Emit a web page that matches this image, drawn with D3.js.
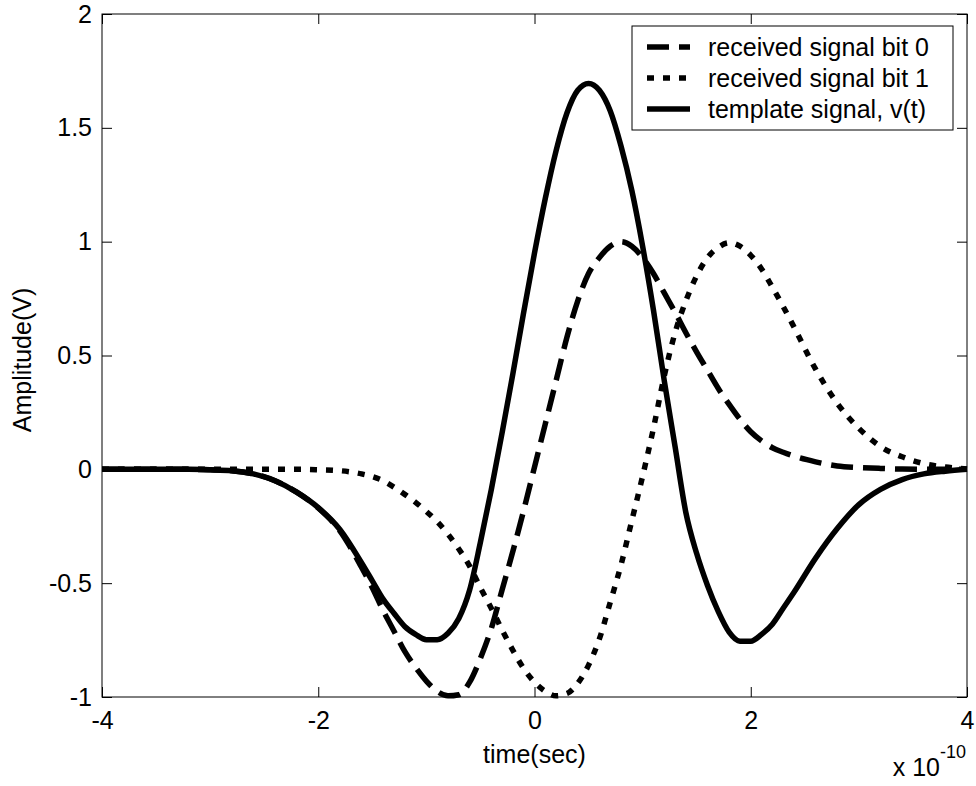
<!DOCTYPE html>
<html>
<head>
<meta charset="utf-8">
<script src="https://cdn.jsdelivr.net/npm/d3@7"></script>
<style>
  body { margin: 0; background: #fff; }
  text { font-family: Arial, "Liberation Sans", sans-serif; fill: #000; }
</style>
</head>
<body>
<script>
// time axis in units of 1e-10 s
var time = [-4.0, -3.6, -3.2, -3.0, -2.8, -2.6, -2.4, -2.2, -2.0, -1.8,
  -1.6, -1.5, -1.4, -1.3, -1.2, -1.1, -1.0, -0.9, -0.8, -0.7, -0.6, -0.5, -0.4, -0.3, -0.2, -0.1,
  0.0, 0.1, 0.2, 0.3, 0.4, 0.5, 0.6, 0.7, 0.8, 0.9, 1.0, 1.1, 1.2, 1.3, 1.4, 1.5, 1.6, 1.7, 1.8, 1.9,
  2.0, 2.1, 2.2, 2.3, 2.4, 2.6, 2.8, 3.0, 3.2, 3.4, 3.6, 3.8, 4.0];

var bit0 = [0, 0, 0, -0.002, -0.006, -0.02, -0.05, -0.10, -0.17, -0.27,
  -0.43, -0.52, -0.62, -0.71, -0.80, -0.87, -0.93, -0.975, -0.995, -0.99, -0.935, -0.83, -0.70, -0.53, -0.36, -0.18,
  0.01, 0.20, 0.39, 0.58, 0.74, 0.86, 0.93, 0.98, 1.0, 0.98, 0.93, 0.86, 0.775, 0.69, 0.60, 0.515, 0.435, 0.355, 0.285, 0.22,
  0.165, 0.125, 0.095, 0.075, 0.058, 0.033, 0.015, 0.008, 0.004, 0.001, 0, 0, 0];

var bit1 = [0, 0, 0, 0, 0, 0, 0, 0, -0.002, -0.006,
  -0.02, -0.032, -0.05, -0.078, -0.11, -0.145, -0.185, -0.23, -0.285, -0.35, -0.425, -0.52, -0.61, -0.705, -0.795, -0.875,
  -0.935, -0.975, -0.995, -0.985, -0.94, -0.86, -0.745, -0.585, -0.42, -0.225, -0.03, 0.18, 0.41, 0.60, 0.74, 0.85, 0.93, 0.975, 0.995, 0.98,
  0.94, 0.88, 0.80, 0.715, 0.625, 0.44, 0.29, 0.18, 0.10, 0.055, 0.025, 0.01, 0.002];

var template = [0, 0, 0, -0.002, -0.006, -0.02, -0.05, -0.10, -0.168, -0.264,
  -0.41, -0.49, -0.57, -0.632, -0.69, -0.725, -0.748, -0.748, -0.72, -0.655, -0.53, -0.32, -0.09, 0.16, 0.42, 0.69,
  0.95, 1.19, 1.40, 1.565, 1.665, 1.695, 1.665, 1.575, 1.42, 1.225, 0.98, 0.70, 0.39, 0.10, -0.19, -0.37, -0.51, -0.625, -0.715, -0.755,
  -0.755, -0.725, -0.68, -0.61, -0.54, -0.39, -0.26, -0.155, -0.088, -0.045, -0.02, -0.008, 0];

var seriesNames = ["received signal bit 0", "received signal bit 1", "template signal, v(t)"];
var seriesValues = [bit0, bit1, template];
var seriesDash = ["22,10", "7,9", null];

var xTicks = [-4, -2, 0, 2, 4];
var yTicks = [-1, -0.5, 0, 0.5, 1, 1.5, 2];

var W = 976, H = 786;
var padL = 102, padR = 967, padT = 14, padB = 697;

var svg = d3.select("body").append("svg")
    .attr("width", W)
    .attr("height", H);

svg.append("rect").attr("width", W).attr("height", H).attr("fill", "#fff");

var x = d3.scaleLinear().domain([-4, 4]).range([padL, padR]);
var y = d3.scaleLinear().domain([-1, 2]).range([padB, padT]);

var fmt = function(d){ return String(d); };

// axes, ticks pointing inward, mirrored on top/right
svg.append("g")
    .attr("transform", "translate(0," + padB + ")")
    .call(d3.axisBottom(x).tickValues(xTicks).tickSizeInner(-10).tickSizeOuter(0).tickPadding(14).tickFormat(fmt));
svg.append("g")
    .attr("transform", "translate(0," + padT + ")")
    .call(d3.axisTop(x).tickValues(xTicks).tickSizeInner(-10).tickSizeOuter(0).tickFormat(""));
svg.append("g")
    .attr("transform", "translate(" + padL + ",0)")
    .call(d3.axisLeft(y).tickValues(yTicks).tickSizeInner(-10).tickSizeOuter(0).tickPadding(10).tickFormat(fmt));
svg.append("g")
    .attr("transform", "translate(" + padR + ",0)")
    .call(d3.axisRight(y).tickValues(yTicks).tickSizeInner(-10).tickSizeOuter(0).tickFormat(""));

svg.selectAll(".tick text").style("font-size", "25px").style("font-family", "Arial, 'Liberation Sans', sans-serif").attr("fill", "#000");
svg.selectAll(".domain").remove();
svg.selectAll(".tick line").attr("stroke", "#000");

// curves
var line = d3.line()
    .x(function(d){ return x(d[0]); })
    .y(function(d){ return y(d[1]); })
    .curve(d3.curveMonotoneX);

var plot = svg.append("g");
seriesValues.forEach(function(vals, i){
    var pts = time.map(function(t, k){ return [t, vals[k]]; });
    plot.append("path")
        .attr("d", line(pts))
        .attr("fill", "none")
        .attr("stroke", "#000")
        .attr("stroke-width", 5.5)
        .attr("stroke-linejoin", "round")
        .attr("stroke-dasharray", seriesDash[i]);
});

// box
svg.append("rect")
    .attr("x", padL).attr("y", padT)
    .attr("width", padR - padL).attr("height", padB - padT)
    .attr("fill", "none").attr("stroke", "#000").attr("stroke-width", 1);

// legend
var leg = svg.append("g");
leg.append("rect")
    .attr("x", 632).attr("y", 26).attr("width", 321).attr("height", 104)
    .attr("fill", "#fff").attr("stroke", "#000").attr("stroke-width", 1);
seriesNames.forEach(function(name, i){
    var ly = 47 + i * 31;
    leg.append("line")
        .attr("x1", 647).attr("x2", 690).attr("y1", ly).attr("y2", ly)
        .attr("stroke", "#000").attr("stroke-width", 5.5)
        .attr("stroke-dasharray", seriesDash[i]);
    leg.append("text")
        .attr("x", 708).attr("y", ly).attr("dy", "0.35em")
        .style("font-size", "25px")
        .text(name);
});

// labels
svg.append("text")
    .attr("x", (padL + padR) / 2).attr("y", 763)
    .attr("text-anchor", "middle")
    .style("font-size", "25px")
    .text("time(sec)");

svg.append("text")
    .attr("transform", "translate(31,360) rotate(-90)")
    .attr("text-anchor", "middle")
    .style("font-size", "25px")
    .text("Amplitude(V)");

svg.append("text")
    .attr("x", 940).attr("y", 776)
    .attr("text-anchor", "end")
    .style("font-size", "25px")
    .text("x 10");
svg.append("text")
    .attr("x", 940).attr("y", 758)
    .style("font-size", "18px")
    .text("-10");
</script>
</body>
</html>
